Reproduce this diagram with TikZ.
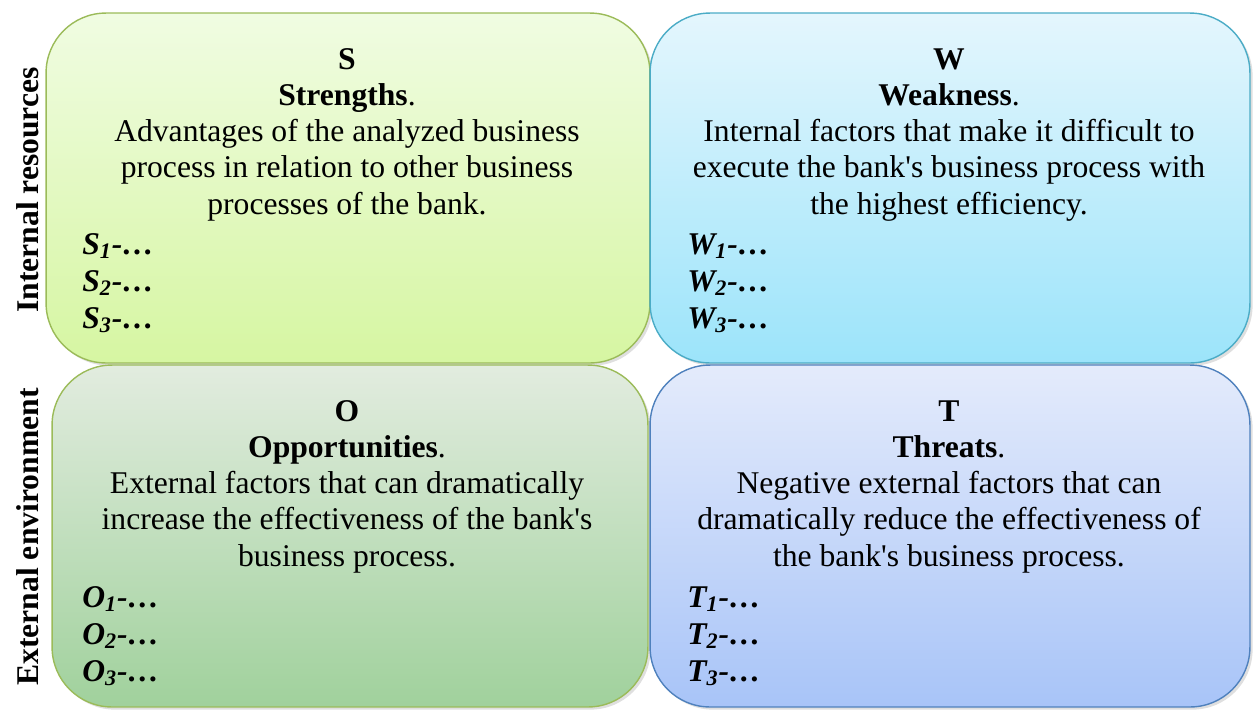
\documentclass[tikz,border=0pt]{standalone}
\usepackage{fontspec}
\setmainfont{Liberation Serif}
\usetikzlibrary{positioning,shadows}

\definecolor{strtop}{HTML}{F0FCE2}
\definecolor{strbot}{HTML}{D6F6A2}
\definecolor{wktop}{HTML}{E4F6FD}
\definecolor{wkbot}{HTML}{9CE4FA}
\definecolor{optop}{HTML}{E2ECDF}
\definecolor{opbot}{HTML}{A0D19C}
\definecolor{thtop}{HTML}{E4EBFB}
\definecolor{thbot}{HTML}{A8C4F8}
\definecolor{greenline}{HTML}{9BBB59}
\definecolor{cyanline}{HTML}{4BACC6}
\definecolor{blueline}{HTML}{4F81BD}

\tikzset{
  quad/.style={draw, line width=0.8pt, rounded corners=1.2cm, inner sep=0pt,
    drop shadow={opacity=0.25, shadow xshift=1.5pt, shadow yshift=-1.5pt}},
  heading/.style={align=center, inner sep=0pt, anchor=base,
    font=\fontsize{18}{20.5}\selectfont},
  items/.style={align=left, inner sep=0pt, anchor=base west,
    font=\fontsize{18}{21}\selectfont\bfseries\itshape},
  side/.style={rotate=90, inner sep=0pt, font=\fontsize{18}{20}\selectfont\bfseries}
}
\newcommand{\apo}{\textquotesingle}

\begin{document}
\begin{tikzpicture}[x=0.02cm, y=-0.02cm]
        \useasboundingbox (0,0) rectangle (1256,711);

        \node[quad, draw=greenline, top color=strtop, bottom color=strbot,
          minimum width=12.08cm, minimum height=7cm] (sbox) at (348,188) {};
        \node[quad, draw=cyanline, top color=wktop, bottom color=wkbot,
          minimum width=12cm, minimum height=7cm] (wbox) at (950,188) {};
        \node[quad, draw=greenline, top color=optop, bottom color=opbot,
          minimum width=11.92cm, minimum height=6.84cm] (obox) at (350,536) {};
        \node[quad, draw=blueline, top color=thtop, bottom color=thbot,
          minimum width=12cm, minimum height=6.84cm] (tbox) at (950,536) {};

        % base anchor sits on the last line
        \node[heading] (stext) at (347,214) {\textbf{S}\\\textbf{Strengths}.\\
          Advantages of the analyzed business\\process in relation to other business\\
          processes of the bank.};
        \node[heading] (wtext) at (949,214) {\textbf{W}\\\textbf{Weakness}.\\
          Internal factors that make it difficult to\\execute the bank\apo s business process with\\
          the highest efficiency.};
        \node[heading] (otext) at (347,566) {\textbf{O}\\\textbf{Opportunities}.\\
          External factors that can dramatically\\increase the effectiveness of the bank\apo s\\
          business process.};
        \node[heading] (ttext) at (949,566) {\textbf{T}\\\textbf{Threats}.\\
          Negative external factors that can\\dramatically reduce the effectiveness of\\
          the bank\apo s business process.};

        \node[items] (slist) at (82,328) {S\textsubscript{1}-…\\S\textsubscript{2}-…\\S\textsubscript{3}-…};
        \node[items] (wlist) at (687,328) {W\textsubscript{1}-…\\W\textsubscript{2}-…\\W\textsubscript{3}-…};
        \node[items] (olist) at (82,681) {O\textsubscript{1}-…\\O\textsubscript{2}-…\\O\textsubscript{3}-…};
        \node[items] (tlist) at (687,681) {T\textsubscript{1}-…\\T\textsubscript{2}-…\\T\textsubscript{3}-…};

        \node[side] (internal) at (28,190) {Internal resources};
        \node[side] (external) at (28,537) {External environment};
    \end{tikzpicture}
\end{document}
